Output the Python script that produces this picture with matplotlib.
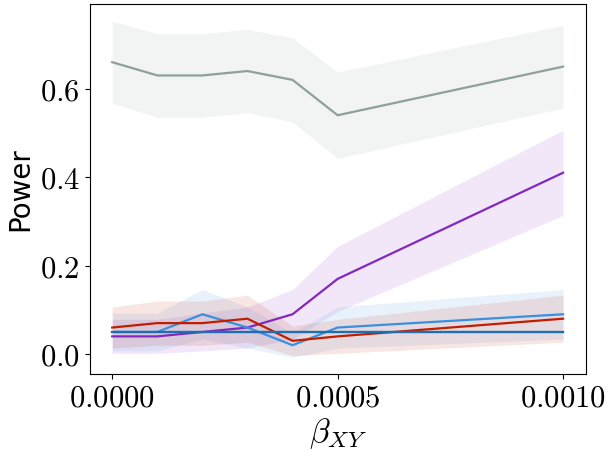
import numpy as np
import matplotlib
matplotlib.use("Agg")
from matplotlib import pyplot as plt
from matplotlib.ticker import FuncFormatter

plt.rcParams['mathtext.fontset'] = 'cm'

# data
beta = [0.0, 0.0001, 0.0002, 0.0003, 0.0004, 0.0005, 0.001]
power_gray = [0.66, 0.63, 0.63, 0.64, 0.62, 0.54, 0.65]
power_purple = [0.04, 0.04, 0.05, 0.06, 0.09, 0.17, 0.41]
power_lightblue = [0.05, 0.05, 0.09, 0.06, 0.02, 0.06, 0.09]
power_red = [0.06, 0.07, 0.07, 0.08, 0.03, 0.04, 0.08]
alpha_level = [0.05, 0.05, 0.05, 0.05, 0.05, 0.05, 0.05]
n_reps = 100  # repetitions per point, for the binomial band

series = [
    (power_gray, '#8fa09a'),
    (power_purple, '#8228c0'),
    (power_lightblue, '#3b8fe0'),
    (power_red, '#c01e00'),
]

fig = plt.figure(figsize=(6.1, 4.53), dpi=100)
ax = fig.add_axes([0.147, 0.174, 0.813, 0.8165])

for vals, col in series:
    p = np.array(vals)
    half = 1.96 * np.sqrt(p * (1 - p) / n_reps)
    ax.fill_between(beta, p - half, p + half, color=col, alpha=0.11, linewidth=0)
    ax.plot(beta, p, color=col, linewidth=1.6)

# nominal level
ax.plot(beta, alpha_level, color='#1f6fb0', linewidth=1.7)

ax.set_xticks([0.0, 0.0005, 0.001])
ax.set_yticks([0.0, 0.2, 0.4, 0.6])
ax.xaxis.set_major_formatter(FuncFormatter(lambda v, pos: r'$%.4f$' % v))
ax.yaxis.set_major_formatter(FuncFormatter(lambda v, pos: r'$%.1f$' % v))
ax.tick_params(labelsize=22)
ax.set_xlabel(r'$\beta_{XY}$', fontsize=24, labelpad=2)
ax.set_ylabel('Power', fontsize=20)

fig.savefig('out.png', dpi=100)
